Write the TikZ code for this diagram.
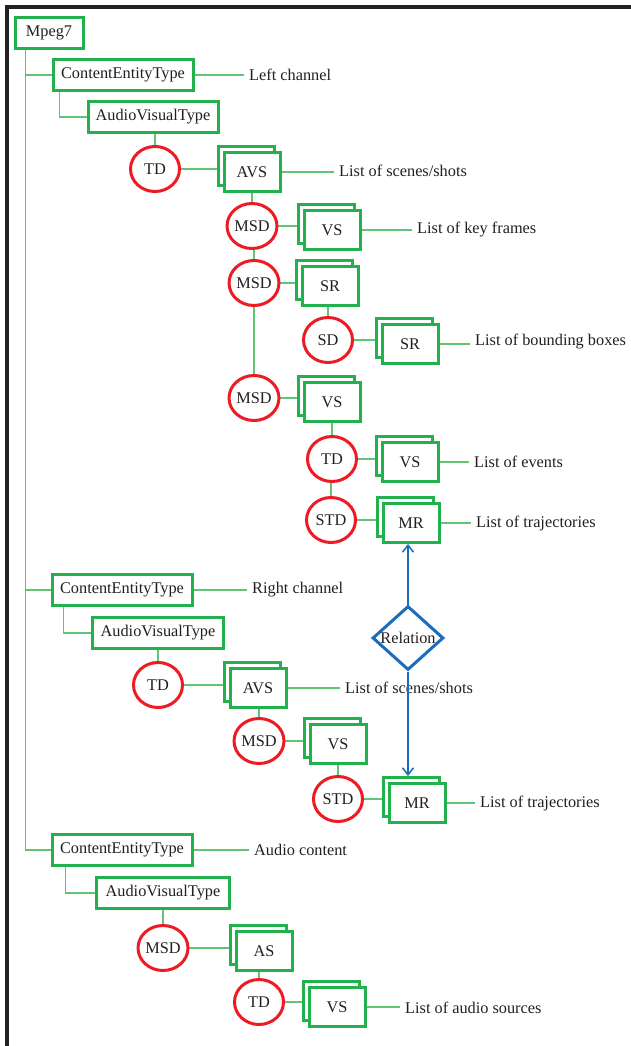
\documentclass[tikz,border=0pt]{standalone}
\usepackage{fontspec}
\setmainfont{Liberation Serif}
\usetikzlibrary{shapes.geometric,shadows,backgrounds,arrows.meta}

\definecolor{boxgreen}{RGB}{34,177,76}
\definecolor{linegreen}{RGB}{95,196,115}
\definecolor{dsred}{RGB}{237,28,36}
\definecolor{relblue}{RGB}{28,108,190}
\definecolor{txtgray}{RGB}{35,31,32}
\definecolor{framegray}{RGB}{34,34,34}

\begin{document}
\begin{tikzpicture}[x=1pt,y=-1pt,
  every node/.style={font=\fontsize{16.3}{19}\selectfont, text=txtgray},
  typebox/.style={draw=boxgreen, line width=3pt, fill=white, minimum height=31pt, inner xsep=6pt},
  segbox/.style={draw=boxgreen, line width=3pt, fill=white, minimum width=56pt, minimum height=39pt, inner sep=0pt,
    copy shadow={shadow xshift=-6pt, shadow yshift=6pt}},
  dsnode/.style={ellipse, draw=dsred, line width=3pt, fill=white, minimum width=49pt, minimum height=45pt, inner sep=0pt},
  relnode/.style={diamond, draw=relblue, line width=3pt, fill=white, minimum width=71pt, minimum height=64pt, inner sep=0pt},
  listlbl/.style={anchor=west, inner xsep=5pt, inner ysep=0pt},
  conn/.style={draw=linegreen, line width=1.1pt},
  >={Straight Barb[length=7pt,width=11pt]}]

\useasboundingbox (0,0) rectangle (631,1046);

% frame
\draw[framegray, line width=3.2pt] (7,1046) -- (7,7) -- (631,7);

% root
\node[typebox, minimum width=68pt] (mpeg7) at (49,33) {Mpeg7};

% left channel
\node[typebox, minimum width=140pt] (cet1) at (123,75) {ContentEntityType};
\node[listlbl] (lleft) at (244,75) {Left channel};
\node[typebox, minimum width=130pt] (avt1) at (153,117) {AudioVisualType};
\node[dsnode] (td1) at (155,169) {TD};
\node[segbox] (avs1) at (252,172) {AVS};
\node[listlbl] (lscn1) at (334,171) {List of scenes/shots};
\node[dsnode] (msd1) at (252,226) {MSD};
\node[segbox] (vs1) at (332,230) {VS};
\node[listlbl] (lkey) at (412,230) {List of key frames};
\node[dsnode] (msd2) at (254,283) {MSD};
\node[segbox] (sr1) at (330,286) {SR};
\node[dsnode] (sd1) at (328,340) {SD};
\node[segbox] (sr2) at (410,344) {SR};
\node[listlbl] (lbox) at (470,342) {List of bounding boxes};
\node[dsnode] (msd3) at (254,398) {MSD};
\node[segbox] (vs2) at (332,402) {VS};
\node[dsnode] (td2) at (332,459) {TD};
\node[segbox] (vs3) at (410,462) {VS};
\node[listlbl] (levt) at (469,462) {List of events};
\node[dsnode] (std1) at (331,520) {STD};
\node[segbox] (mr1) at (411,523) {MR};
\node[listlbl] (ltraj1) at (471,523) {List of trajectories};

% right channel
\node[typebox, minimum width=140pt] (cet2) at (122,590) {ContentEntityType};
\node[listlbl] (lright) at (247,590) {Right channel};
\node[typebox, minimum width=131pt] (avt2) at (158,633) {AudioVisualType};
\node[dsnode] (td3) at (158,685) {TD};
\node[segbox] (avs2) at (258,688) {AVS};
\node[listlbl] (lscn2) at (340,688) {List of scenes/shots};
\node[dsnode] (msd4) at (259,741) {MSD};
\node[segbox] (vs4) at (338,744) {VS};
\node[dsnode] (std2) at (338,799) {STD};
\node[segbox] (mr2) at (417,803) {MR};
\node[listlbl] (ltraj2) at (475,803) {List of trajectories};

% audio content
\node[typebox, minimum width=140pt] (cet3) at (122,850) {ContentEntityType};
\node[listlbl] (laud) at (249,850) {Audio content};
\node[typebox, minimum width=133pt] (avt3) at (163,893) {AudioVisualType};
\node[dsnode] (msd5) at (163,948) {MSD};
\node[segbox] (as1) at (264,951) {AS};
\node[dsnode] (td4) at (259,1002) {TD};
\node[segbox] (vs5) at (337,1007) {VS};
\node[listlbl] (lsrc) at (400,1008) {List of audio sources};

% relation between the two trajectory lists
\node[relnode] (rel) at (408,638) {\makebox[0pt]{Relation}};
\draw[->, relblue, line width=1.5pt] (rel.north) -- (rel.north |- mr1.south);
\draw[->, relblue, line width=1.5pt] (rel.south) -- ([yshift=6pt]rel.south |- mr2.north);

\begin{scope}[on background layer]
% trunk
\draw[conn] ([xshift=12pt]mpeg7.south west) |- (cet3);
\draw[conn] ([xshift=12pt]mpeg7.south west) |- (cet1);
\draw[conn] ([xshift=12pt]mpeg7.south west) |- (cet2);

% left channel links
\draw[conn] ([xshift=8pt]cet1.south west) |- (avt1);
\draw[conn] (cet1) -- (cet1 -| lleft.west);
\draw[conn] (td1) -- (td1 |- avt1);
\draw[conn] (td1) -- (td1 -| avs1);
\draw[conn] (avs1) -- (avs1 -| lscn1.west);
\draw[conn] (msd1) -- (msd1 |- avs1);
\draw[conn] (msd1) -- (msd1 -| vs1);
\draw[conn] (vs1) -- (vs1 -| lkey.west);
\draw[conn] (msd2) -- (msd2 |- msd1);
\draw[conn] (msd2) -- (msd2 -| sr1);
\draw[conn] (sd1) -- (sd1 |- sr1);
\draw[conn] (sd1) -- (sd1 -| sr2);
\draw[conn] (sr2) -- (sr2 -| lbox.west);
\draw[conn] (msd3) -- (msd3 |- msd2);
\draw[conn] (msd3) -- (msd3 -| vs2);
\draw[conn] (td2) -- (td2 |- vs2);
\draw[conn] (td2) -- (td2 -| vs3);
\draw[conn] (vs3) -- (vs3 -| levt.west);
\draw[conn] (std1) -- (std1 |- td2);
\draw[conn] (std1) -- (std1 -| mr1);
\draw[conn] (mr1) -- (mr1 -| ltraj1.west);

% right channel links
\draw[conn] ([xshift=13pt]cet2.south west) |- (avt2);
\draw[conn] (cet2) -- (cet2 -| lright.west);
\draw[conn] (td3) -- (td3 |- avt2);
\draw[conn] (td3) -- (td3 -| avs2);
\draw[conn] (avs2) -- (avs2 -| lscn2.west);
\draw[conn] (msd4) -- (msd4 |- avs2);
\draw[conn] (msd4) -- (msd4 -| vs4);
\draw[conn] (std2) -- (std2 |- vs4);
\draw[conn] (std2) -- (std2 -| mr2);
\draw[conn] (mr2) -- (mr2 -| ltraj2.west);

% audio links
\draw[conn] ([xshift=15pt]cet3.south west) |- (avt3);
\draw[conn] (cet3) -- (cet3 -| laud.west);
\draw[conn] (msd5) -- (msd5 |- avt3);
\draw[conn] (msd5) -- (msd5 -| as1);
\draw[conn] (td4) -- (td4 |- as1);
\draw[conn] (td4) -- (td4 -| vs5);
\draw[conn] (vs5) -- (vs5 -| lsrc.west);
\end{scope}

\end{tikzpicture}
\end{document}
